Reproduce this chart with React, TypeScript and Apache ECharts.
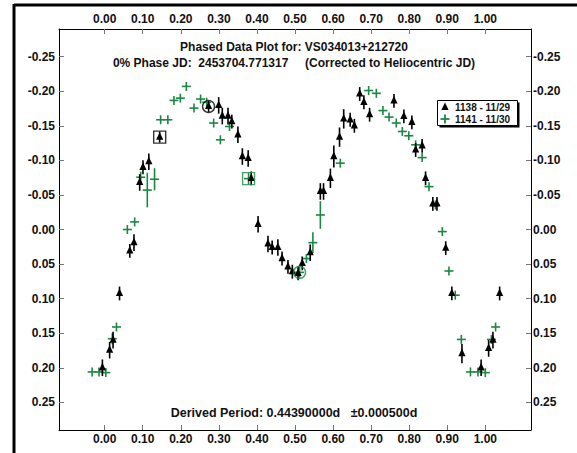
import React, { useEffect, useRef } from "react";
import * as echarts from "echarts";

// Night 1138 - 11/29 : [phase, magnitude delta, error]
const night1138: number[][] = [
  [-0.006, 0.2, 0.012], [0.013, 0.1746, 0.012], [0.022, 0.16, 0.012], [0.039, 0.0925, 0.01],
  [0.066, 0.031, 0.01], [0.077, 0.019, 0.012], [0.092, -0.068, 0.012], [0.1006, -0.09, 0.01],
  [0.116, -0.098, 0.012], [0.1445, -0.1336, 0.008], [0.273, -0.178, 0.008], [0.2995, -0.1795, 0.012],
  [0.309, -0.164, 0.012], [0.324, -0.164, 0.012], [0.334, -0.156, 0.01], [0.35, -0.137, 0.012],
  [0.3617, -0.1055, 0.012], [0.377, -0.1027, 0.012], [0.385, -0.074, 0.01], [0.403, -0.0075, 0.012],
  [0.429, 0.021, 0.012], [0.44, 0.026, 0.01], [0.455, 0.026, 0.012], [0.466, 0.042, 0.01],
  [0.4815, 0.054, 0.01], [0.493, 0.061, 0.01], [0.508, 0.0635, 0.01], [0.519, 0.049, 0.01],
  [0.54, 0.0336, 0.012], [0.5666, -0.055, 0.012], [0.575, -0.055, 0.012], [0.593, -0.074, 0.014],
  [0.602, -0.1055, 0.016], [0.617, -0.1336, 0.014], [0.628, -0.16, 0.014], [0.645, -0.1587, 0.01],
  [0.656, -0.15, 0.01], [0.67, -0.196, 0.01], [0.681, -0.184, 0.01], [0.696, -0.166, 0.01],
  [0.76, -0.186, 0.01], [0.786, -0.1635, 0.01], [0.807, -0.155, 0.01], [0.817, -0.115, 0.01],
  [0.834, -0.121, 0.01], [0.843, -0.074, 0.01], [0.862, -0.037, 0.01], [0.873, -0.037, 0.01],
  [0.896, 0.027, 0.01], [0.912, 0.0925, 0.01], [0.9386, 0.1795, 0.014], [0.989, 0.2, 0.012],
  [1.0087, 0.172, 0.012], [1.02, 0.16, 0.012], [1.0376, 0.0925, 0.01],
];

// Night 1141 - 11/30 : [phase, magnitude delta, error]
const night1141: number[][] = [
  [-0.033, 0.206, 0.004], [-0.015, 0.206, 0.004], [0.003, 0.207, 0.004], [0.02, 0.158, 0.008],
  [0.031, 0.141, 0.006], [0.0596, 0.0, 0.004], [0.0788, -0.011, 0.006], [0.0946, -0.0756, 0.008],
  [0.112, -0.057, 0.025], [0.131, -0.0727, 0.016], [0.147, -0.1587, 0.004], [0.166, -0.1587, 0.004],
  [0.182, -0.1867, 0.004], [0.1988, -0.19, 0.004], [0.2145, -0.207, 0.004], [0.2346, -0.1756, 0.004],
  [0.252, -0.1887, 0.004], [0.268, -0.184, 0.004], [0.2863, -0.154, 0.006], [0.304, -0.1297, 0.006],
  [0.328, -0.149, 0.006], [0.378, -0.0736, 0.008], [0.512, 0.062, 0.008], [0.53, 0.042, 0.006],
  [0.547, 0.019, 0.015], [0.5666, -0.021, 0.02], [0.619, -0.096, 0.006], [0.6935, -0.201, 0.006],
  [0.7137, -0.197, 0.004], [0.731, -0.172, 0.004], [0.747, -0.1626, 0.004], [0.766, -0.154, 0.004],
  [0.782, -0.1418, 0.004], [0.799, -0.1355, 0.004], [0.817, -0.1225, 0.006], [0.834, -0.104, 0.004],
  [0.852, -0.062, 0.004], [0.869, -0.0355, 0.004], [0.887, 0.003, 0.006], [0.9045, 0.06, 0.004],
  [0.921, 0.095, 0.004], [0.937, 0.159, 0.006], [0.961, 0.206, 0.004], [0.9806, 0.206, 0.004],
  [1.0, 0.207, 0.004], [1.016, 0.159, 0.006], [1.027, 0.141, 0.006],
];

// Highlighted comparison points
const blackSquares: number[][] = [[0.1445, -0.1336]];
const blackCircles: number[][] = [[0.273, -0.178]];
const greenSquares: number[][] = [[0.378, -0.0736]];
const greenCircles: number[][] = [[0.512, 0.062]];

const xTicks = [0, 0.1, 0.2, 0.3, 0.4, 0.5, 0.6, 0.7, 0.8, 0.9, 1.0];
const yTicks = [-0.25, -0.2, -0.15, -0.1, -0.05, 0, 0.05, 0.1, 0.15, 0.2, 0.25];

const titleLine1 = "Phased Data Plot for: VS034013+212720";
const titleLine2 = "0% Phase JD:  2453704.771317     (Corrected to Heliocentric JD)";
const periodText = "Derived Period: 0.44390000d   \u00b10.000500d";
const legendNames = ["1138 - 11/29", "1141 - 11/30"];

const GREEN = "#1b8742";
const FONT = "'Liberation Sans', Arial, sans-serif";

export default function App() {
  const ref = useRef<HTMLDivElement>(null);
  useEffect(() => {
    if (!ref.current) return;
    const chart = echarts.init(ref.current, undefined, { renderer: "svg" });
    const fmt = (v: number) => (Math.abs(v) < 1e-9 ? "0.00" : v.toFixed(2));
    const labelStyle = { fontFamily: FONT, fontWeight: "bold" as const, fontSize: 12, color: "#111" };
    const xAxisBase = (pos: "bottom" | "top") => ({
      type: "value" as const,
      position: pos,
      min: -0.12,
      max: 1.12,
      splitLine: { show: false },
      axisLine: { show: true, onZero: false, lineStyle: { color: "#000", width: 1 } },
      axisTick: { show: true, inside: true, length: 5, customValues: xTicks, lineStyle: { color: "#777" } },
      axisLabel: { ...labelStyle, margin: pos === "bottom" ? 3 : 4, customValues: xTicks, formatter: fmt },
    });
    const yAxisBase = (pos: "left" | "right") => ({
      type: "value" as const,
      position: pos,
      inverse: true,
      min: -0.29,
      max: 0.29,
      splitLine: { show: false },
      axisLine: { show: true, onZero: false, lineStyle: { color: "#000", width: 1 } },
      axisTick: { show: true, inside: true, length: 5, customValues: yTicks, lineStyle: { color: "#777" } },
      axisLabel: { ...labelStyle, margin: pos === "left" ? 4 : 2, customValues: yTicks, formatter: fmt },
    });

    const triRender = (params: any, api: any) => {
      const x = api.value(0), y = api.value(1), e = api.value(2);
      const c = api.coord([x, y]);
      const t = api.coord([x, y - e]);
      const b = api.coord([x, y + e]);
      return {
        type: "group",
        children: [
          { type: "line", shape: { x1: c[0], y1: t[1], x2: c[0], y2: b[1] }, style: { stroke: "#000", lineWidth: 1.6 } },
          {
            type: "polygon",
            shape: { points: [[c[0], c[1] - 5], [c[0] - 3.6, c[1] + 2.6], [c[0] + 3.6, c[1] + 2.6]] },
            style: { fill: "#000" },
          },
        ],
      };
    };
    const plusRender = (params: any, api: any) => {
      const x = api.value(0), y = api.value(1), e = api.value(2);
      const c = api.coord([x, y]);
      const t = api.coord([x, y - e]);
      const b = api.coord([x, y + e]);
      const arm = 4.5;
      return {
        type: "group",
        children: [
          { type: "line", shape: { x1: c[0] - arm, y1: c[1], x2: c[0] + arm, y2: c[1] }, style: { stroke: GREEN, lineWidth: 1.6 } },
          {
            type: "line",
            shape: { x1: c[0], y1: Math.min(t[1], c[1] - arm), x2: c[0], y2: Math.max(b[1], c[1] + arm) },
            style: { stroke: GREEN, lineWidth: 1.6 },
          },
        ],
      };
    };
    const ringSeries = (data: number[][], symbol: string, color: string) => ({
      type: "scatter" as const,
      xAxisIndex: 0,
      yAxisIndex: 0,
      data,
      symbol,
      symbolSize: 12,
      silent: true,
      itemStyle: { color: "rgba(0,0,0,0)", borderColor: color, borderWidth: 1.4 },
      z: 5,
    });

    const cx = 294;
    chart.setOption({
      animation: false,
      backgroundColor: "#fff",
      grid: { left: 59, top: 29, width: 472, height: 401, containLabel: false },
      xAxis: [xAxisBase("bottom"), xAxisBase("top")],
      yAxis: [yAxisBase("left"), yAxisBase("right")],
      series: [
        { type: "custom", name: legendNames[1], xAxisIndex: 0, yAxisIndex: 0, data: night1141, renderItem: plusRender, z: 2, encode: { x: 0, y: 1 } },
        { type: "custom", name: legendNames[0], xAxisIndex: 0, yAxisIndex: 0, data: night1138, renderItem: triRender, z: 3, encode: { x: 0, y: 1 } },
        ringSeries(blackSquares, "rect", "#000"),
        ringSeries(blackCircles, "circle", "#000"),
        ringSeries(greenSquares, "rect", GREEN),
        ringSeries(greenCircles, "circle", GREEN),
      ],
      graphic: [
        { type: "line", shape: { x1: 14, y1: 5, x2: 577, y2: 5 }, style: { stroke: "#000", lineWidth: 3 } },
        { type: "line", shape: { x1: 14, y1: 4, x2: 14, y2: 453 }, style: { stroke: "#000", lineWidth: 3 } },
        { type: "text", x: cx, y: 47, style: { text: titleLine1, font: `bold 12px ${FONT}`, fill: "#111", textAlign: "center", textVerticalAlign: "middle" } },
        { type: "text", x: cx, y: 63, style: { text: titleLine2, font: `bold 12px ${FONT}`, fill: "#111", textAlign: "center", textVerticalAlign: "middle" } },
        { type: "text", x: cx, y: 413, style: { text: periodText, font: `bold 12.5px ${FONT}`, fill: "#111", textAlign: "center", textVerticalAlign: "middle" } },
        { type: "rect", shape: { x: 439.5, y: 102.5, width: 80, height: 25 }, style: { fill: "#000" } },
        { type: "rect", shape: { x: 437.5, y: 100.5, width: 80, height: 25 }, style: { fill: "#fff", stroke: "#000", lineWidth: 1 } },
        { type: "polygon", shape: { points: [[445, 102.5], [441.4, 110], [448.6, 110]] }, style: { fill: "#000" } },
        { type: "text", x: 455, y: 107, style: { text: legendNames[0], font: `bold 10px ${FONT}`, fill: "#111", textVerticalAlign: "middle" } },
        { type: "line", shape: { x1: 440.5, y1: 119, x2: 449.5, y2: 119 }, style: { stroke: GREEN, lineWidth: 1.8 } },
        { type: "line", shape: { x1: 445, y1: 114.5, x2: 445, y2: 123.5 }, style: { stroke: GREEN, lineWidth: 1.8 } },
        { type: "text", x: 455, y: 119.5, style: { text: legendNames[1], font: `bold 10px ${FONT}`, fill: "#111", textVerticalAlign: "middle" } },
      ],
    });
    return () => chart.dispose();
  }, []);
  return <div ref={ref} style={{ position: "absolute", left: 0, top: 0, width: 577, height: 453 }} />;
}
